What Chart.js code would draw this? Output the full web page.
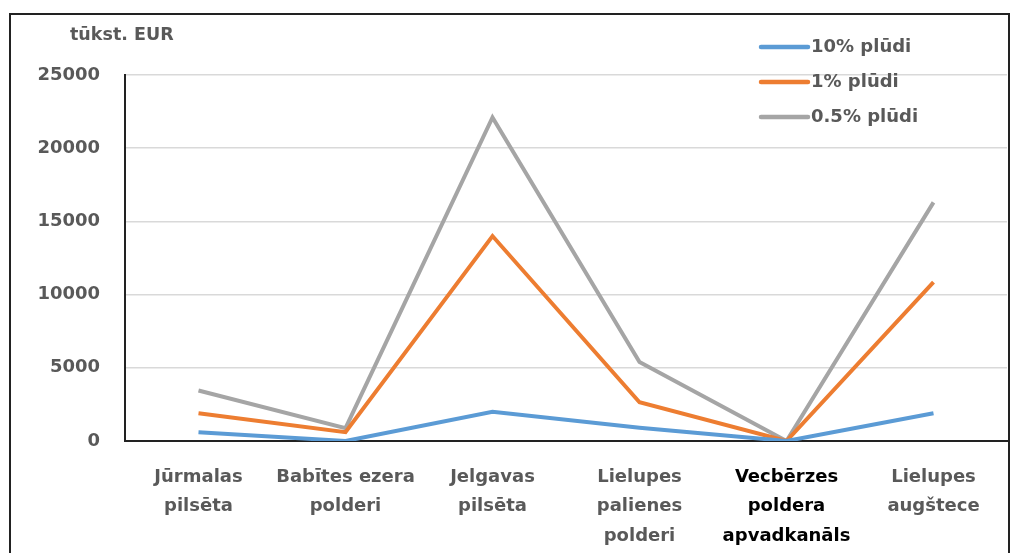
<!DOCTYPE html>
<html>
<head>
<meta charset="utf-8">
<script src="https://cdn.jsdelivr.net/npm/chart.js@4"></script>
<style>
  html, body { margin: 0; padding: 0; background: #fff; }
  #wrap { position: relative; width: 1012px; height: 553px; overflow: hidden; }
  #frame { position: absolute; left: 9px; top: 13px; width: 997px; height: 560px; border: 2px solid #222; }
  canvas { position: absolute; left: 0; top: 0; }
</style>
</head>
<body>
<div id="wrap">
  <div id="frame"></div>
  <canvas id="myChart" width="1012" height="553"></canvas>
</div>
<script>
const kategorijas = [
  ['Jūrmalas', 'pilsēta'],
  ['Babītes ezera', 'polderi'],
  ['Jelgavas', 'pilsēta'],
  ['Lielupes', 'palienes', 'polderi'],
  ['Vecbērzes', 'poldera', 'apvadkanāls'],
  ['Lielupes', 'augštece']
];
const pludi10 = [600, 0, 2000, 900, 0, 1900];
const pludi1 = [1900, 600, 14000, 2650, 0, 10850];
const pludi05 = [3450, 880, 22100, 5400, 0, 16300];
const asuTicks = [0, 5000, 10000, 15000, 20000, 25000];
const vienibas = 'tūkst. EUR';

const fonts = 'DejaVu Sans, sans-serif';
const peleks = '#595959';

// virsraksts un legenda zimeti pasi
const zimetTekstus = {
    id: 'zimetTekstus',
    afterDraw(chart) {
        const ctx = chart.ctx;
        ctx.save();
        ctx.font = 'bold 17.5px ' + fonts;
        ctx.fillStyle = peleks;
        ctx.textBaseline = 'middle';
        ctx.textAlign = 'left';
        ctx.fillText(vienibas, 70, 35);

        ctx.font = 'bold 18px ' + fonts;
        chart.data.datasets.forEach((ds, i) => {
            const y = 47 + i * 35;
            ctx.strokeStyle = ds.borderColor;
            ctx.lineWidth = 4.5;
            ctx.lineCap = 'round';
            ctx.beginPath();
            ctx.moveTo(761, y);
            ctx.lineTo(808, y);
            ctx.stroke();
            ctx.fillText(ds.label, 811, y);
        });
        ctx.restore();
    }
};

const ctx = document.getElementById('myChart').getContext('2d');
new Chart(ctx, {
    type: 'line',
    data: {
        labels: kategorijas,
        datasets: [
            { label: '10% plūdi', data: pludi10, borderColor: '#5b9bd5' },
            { label: '1% plūdi', data: pludi1, borderColor: '#ed7d31' },
            { label: '0.5% plūdi', data: pludi05, borderColor: '#a5a5a5' }
        ]
    },
    options: {
        responsive: false,
        animation: false,
        layout: { padding: { left: 0, top: 75, right: 5, bottom: 0 } },
        elements: {
            line: { borderWidth: 4, tension: 0, borderJoinStyle: 'miter' },
            point: { radius: 0 }
        },
        plugins: {
            legend: { display: false },
            tooltip: { enabled: false }
        },
        scales: {
            x: {
                offset: true,
                grid: { display: false, drawTicks: false },
                border: { color: '#222', width: 2 },
                ticks: {
                    maxRotation: 0,
                    autoSkip: false,
                    padding: 21,
                    font: { family: fonts, size: 18, weight: 'bold', lineHeight: 1.65 },
                    color: (c) => c.index === 4 ? '#000' : peleks
                },
                afterFit(scale) { scale.height = 112; }
            },
            y: {
                min: 0,
                max: 25000,
                afterBuildTicks(scale) { scale.ticks = asuTicks.map(v => ({ value: v })); },
                grid: { color: '#d9d9d9', lineWidth: 1.5, drawTicks: false },
                border: { color: '#222', width: 2 },
                ticks: {
                    padding: 25,
                    font: { family: fonts, size: 18, weight: 'bold' },
                    color: peleks,
                    callback: (v) => String(v)
                },
                afterFit(scale) { scale.width = 125; }
            }
        }
    },
    plugins: [zimetTekstus]
});
</script>
</body>
</html>
